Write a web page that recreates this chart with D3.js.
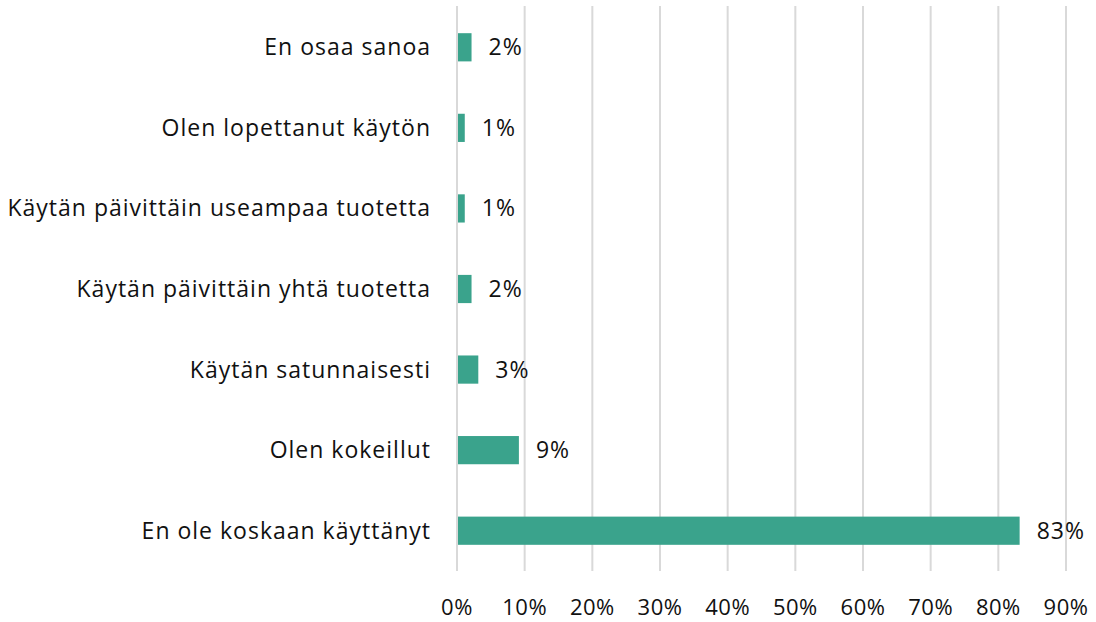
<!DOCTYPE html>
<html><head><meta charset="utf-8">
<script src="https://cdn.jsdelivr.net/npm/d3@7"></script>
<style>body{margin:0;background:#fff;} svg{display:block;}</style>
</head><body>
<svg id="c" width="1096" height="622"></svg>
<script>
const categories = ["En osaa sanoa","Olen lopettanut käytön","Käytän päivittäin useampaa tuotetta","Käytän päivittäin yhtä tuotetta","Käytän satunnaisesti","Olen kokeillut","En ole koskaan käyttänyt"];
const values = [0.02,0.01,0.01,0.02,0.03,0.09,0.83];
const valueLabels = ["2%","1%","1%","2%","3%","9%","83%"];
const tickValues = [0,0.1,0.2,0.3,0.4,0.5,0.6,0.7,0.8,0.9];

const svg = d3.select("#c");
const font = "'Open Sans', sans-serif";
const x = d3.scaleLinear().domain([0,0.9]).range([457,1066]);
const y = d3.scaleBand().domain(categories).range([7,571]).paddingInner(0.65).paddingOuter(0.325);

svg.append("g").selectAll("line").data(tickValues).join("line")
  .attr("x1",d=>x(d)).attr("x2",d=>x(d)).attr("y1",6).attr("y2",571)
  .attr("stroke","#d9d9d9").attr("stroke-width",2);

svg.append("g").selectAll("rect").data(values).join("rect")
  .attr("x",x(0)+1).attr("y",(d,i)=>y(categories[i]))
  .attr("width",d=>x(d)-x(0)).attr("height",y.bandwidth())
  .attr("fill","#3aa38c");

svg.append("g").selectAll("text").data(values).join("text")
  .attr("x",d=>x(d)+18).attr("y",(d,i)=>y(categories[i])+y.bandwidth()/2)
  .attr("dy","0.35em").attr("font-family",font).attr("font-size",23).attr("letter-spacing","1px").attr("fill","#111")
  .text((d,i)=>valueLabels[i]);

svg.append("g").selectAll("text").data(categories).join("text")
  .attr("x",431).attr("y",d=>y(d)+y.bandwidth()/2).attr("text-anchor","end")
  .attr("dy","0.35em").attr("font-family",font).attr("font-size",23).attr("letter-spacing","1px").attr("fill","#111")
  .text(d=>d);

svg.append("g").selectAll("text").data(tickValues).join("text")
  .attr("x",d=>x(d)).attr("y",607).attr("text-anchor","middle")
  .attr("dy","0.35em").attr("font-family",font).attr("font-size",22).attr("letter-spacing","0.5px").attr("fill","#111")
  .text(d=>d3.format(".0%")(d));
</script>
</body></html>
